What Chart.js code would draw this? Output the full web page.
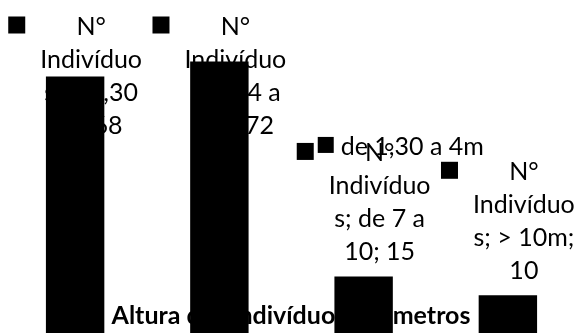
<!DOCTYPE html>
<html>
<head>
<meta charset="utf-8">
<script src="https://cdn.jsdelivr.net/npm/chart.js@4.4.0/dist/chart.umd.min.js"></script>
<style>
  html, body { margin: 0; padding: 0; background: #fff; overflow: hidden; }
  #grafico { display: block; }
</style>
</head>
<body>
<canvas id="grafico" width="580" height="333"></canvas>
<script>
const nomeSerie = "N° Indivíduos";
const categorias = ["< 1,30 m", "de 4 a 7m", "de 7 a 10", "> 10m"];
const valores = [68, 72, 15, 10];
const rotuloSolto = "de 1,30 a 4m";
const tituloEixo = "Altura dos indivíduos em metros";
const limiteY = 88.3;

document.addEventListener("DOMContentLoaded", () => {
  const ctx = document.getElementById("grafico").getContext("2d");

  const fonteRotulo = "25px Lato, 'Open Sans', sans-serif";
  const fonteTitulo = "bold 25px Lato, 'Open Sans', sans-serif";
  const larguraMax = 104;
  const alturaLinha = 33;
  const tamChave = 17;
  const folgaChave = 15;

  // quebra como o Excel: por palavra e, se não couber, no meio da palavra
  function quebrarTexto(c, texto, max) {
    const palavras = texto.split(" ");
    const linhas = [];
    let atual = "";
    palavras.forEach((p) => {
      const teste = atual ? atual + " " + p : p;
      if (c.measureText(teste).width <= max) {
        atual = teste;
        return;
      }
      if (atual) linhas.push(atual);
      atual = p;
      while (c.measureText(atual).width > max) {
        let i = atual.length - 1;
        while (i > 1 && c.measureText(atual.slice(0, i)).width > max) i--;
        linhas.push(atual.slice(0, i));
        atual = atual.slice(i);
      }
    });
    if (atual) linhas.push(atual);
    return linhas;
  }

  const rotulosPlugin = {
    id: "rotulosExcel",
    beforeDatasetsDraw(chart) {
      const c = chart.ctx;
      c.save();
      c.fillStyle = "#000";

      // título do eixo, fica atrás das barras
      c.font = fonteTitulo;
      c.textAlign = "center";
      c.textBaseline = "middle";
      c.fillText(tituloEixo, chart.width / 2 + 1, 316);

      c.font = fonteRotulo;
      const meta = chart.getDatasetMeta(0);
      let chave3 = null;
      meta.data.forEach((barra, i) => {
        const texto = `${nomeSerie}; ${categorias[i]}; ${valores[i]}`;
        const linhas = quebrarTexto(c, texto, larguraMax);
        const largura = Math.max(...linhas.map((l) => c.measureText(l).width));
        const blocoL = tamChave + folgaChave + largura;
        const esq = barra.x - blocoL / 2;
        const cx = esq + tamChave + folgaChave + largura / 2;
        let topo = barra.y - 24 - alturaLinha * (linhas.length - 1);
        if (topo < 27) topo = 27;
        linhas.forEach((l, k) => {
          c.fillText(l, cx, topo + k * alturaLinha);
        });
        const ky = topo - 2 - tamChave / 2;
        c.fillRect(esq, ky, tamChave, tamChave);
        if (i === 2) chave3 = { x: esq, y: ky };
      });

      if (chave3) {
        const kx = chave3.x + 21;
        const ky = chave3.y - 6;
        c.fillRect(kx, ky, tamChave - 1, tamChave - 1);
        c.textAlign = "left";
        c.fillText(rotuloSolto, kx + 23, ky + tamChave / 2 + 2);
      }
      c.restore();
    },
  };

  new Chart(ctx, {
    type: "bar",
    data: {
      labels: categorias,
      datasets: [
        {
          label: nomeSerie,
          data: valores,
          backgroundColor: "#000",
          borderWidth: 0,
          categoryPercentage: 1,
          barPercentage: 0.405,
        },
      ],
    },
    options: {
      responsive: false,
      animation: false,
      layout: { padding: { left: 3, right: 0, top: 0, bottom: 0 } },
      plugins: {
        legend: { display: false },
        title: { display: false },
        tooltip: { enabled: false },
      },
      scales: {
        x: { display: false },
        y: { display: false, min: 0, max: limiteY },
      },
    },
    plugins: [rotulosPlugin],
  });
});
</script>
</body>
</html>
